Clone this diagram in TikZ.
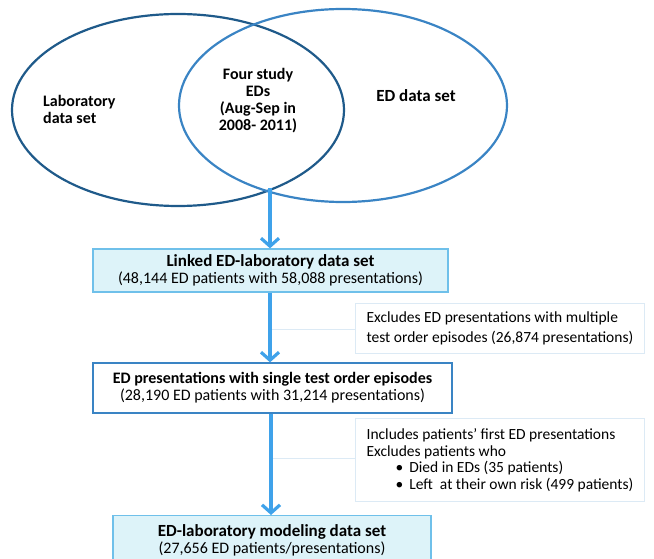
\documentclass[tikz,border=0pt]{standalone}
\usepackage{fontspec}
\setmainfont{Carlito}
\usetikzlibrary{shapes.geometric,arrows.meta}
\definecolor{navy}{HTML}{1F5A8A}
\definecolor{midblue}{HTML}{3A84C4}
\definecolor{arrblue}{HTML}{3FA2EA}
\definecolor{boxfill}{HTML}{DDF3F9}
\definecolor{boxline}{HTML}{6FC0EA}
\definecolor{paleline}{HTML}{DCEAF5}
\definecolor{box2line}{HTML}{3A84C4}
\newcommand{\bigb}[1]{{\fontsize{17}{17}\selectfont\bfseries #1}}
\tikzset{
  venn/.style={ellipse, draw, line width=2.2pt, inner sep=0pt},
  vtext/.style={font=\fontsize{16}{17}\selectfont\bfseries, inner sep=0pt},
  mainbox/.style={draw, line width=1.3pt, inner sep=0pt, align=center,
     font=\fontsize{16}{17}\selectfont},
  sidebox/.style={draw=paleline, line width=1.2pt, fill=white, inner xsep=11pt, inner ysep=0pt,
     align=left, anchor=north west, font=\fontsize{15.5}{19.5}\selectfont},
  flow/.style={draw=arrblue, line width=3.6pt,
     -{Straight Barb[length=8pt,width=18pt,line width=3.2pt]}},
  faint/.style={draw=paleline, line width=1pt}
}
\begin{document}
\begin{tikzpicture}[x=1pt,y=-1pt]
\useasboundingbox (0,0) rectangle (654,559);
% Venn
\node[venn, draw=navy, minimum width=332pt, minimum height=192pt] (lab) at (178,110) {};
\node[venn, draw=midblue, minimum width=328pt, minimum height=193pt] (ed) at (343,105.5) {};
\node[vtext, align=left, anchor=west] (labt) at (43,109) {Laboratory\\data set};
\node[vtext, align=center] (fourt) at (258,101) {Four study\\EDs\\(Aug-Sep in\\2008- 2011)};
\node[vtext, font=\fontsize{17}{17}\selectfont\bfseries] (edt) at (416,96) {ED data set};
\coordinate (vbot) at (270,188);
% boxes
\node[mainbox, draw=boxline, fill=boxfill, minimum width=355pt, minimum height=43pt] (b1) at (270.5,270.5)
  {\bigb{Linked ED-laboratory data set}\\(48,144 ED patients with 58,088 presentations)};
\node[mainbox, draw=box2line, fill=white, minimum width=359pt, minimum height=50pt] (b2) at (272.5,388)
  {\textbf{ED presentations with single test order episodes}\\(28,190 ED patients with 31,214 presentations)};
\node[mainbox, draw=boxline, fill=boxfill, minimum width=318pt, minimum height=49pt, anchor=north] (b3) at (272,515)
  {\bigb{ED-laboratory modeling data set}\\(27,656 ED patients/presentations)};
% side boxes
\node[sidebox, minimum height=50pt] (s1) at (355,303)
  {Excludes ED presentations with multiple\\test order episodes (26,874 presentations)};
\node[sidebox, minimum height=83pt, font=\fontsize{15.5}{16.5}\selectfont] (s2) at (355,418)
  {Includes patients’ first ED presentations\\Excludes patients who\\
   \hspace*{29pt}\textbullet\hspace{6pt}Died in EDs (35 patients)\\
   \hspace*{29pt}\textbullet\hspace{6pt}Left\ \ at their own risk (499 patients)};
% faint connectors
\coordinate (j1) at (270,329);
\coordinate (j2) at (271,458);
\draw[faint] (j1) -- (j1 -| s1.west);
\draw[faint] (j2) -- (j2 -| s2.west);
% flow arrows
\draw[flow] (vbot) -- (vbot |- b1.north);
\draw[flow] (b1.south -| vbot) -- (b2.north -| vbot);
\draw[flow] (b2.south -| j2) -- (b3.north -| j2);
\end{tikzpicture}
\end{document}
